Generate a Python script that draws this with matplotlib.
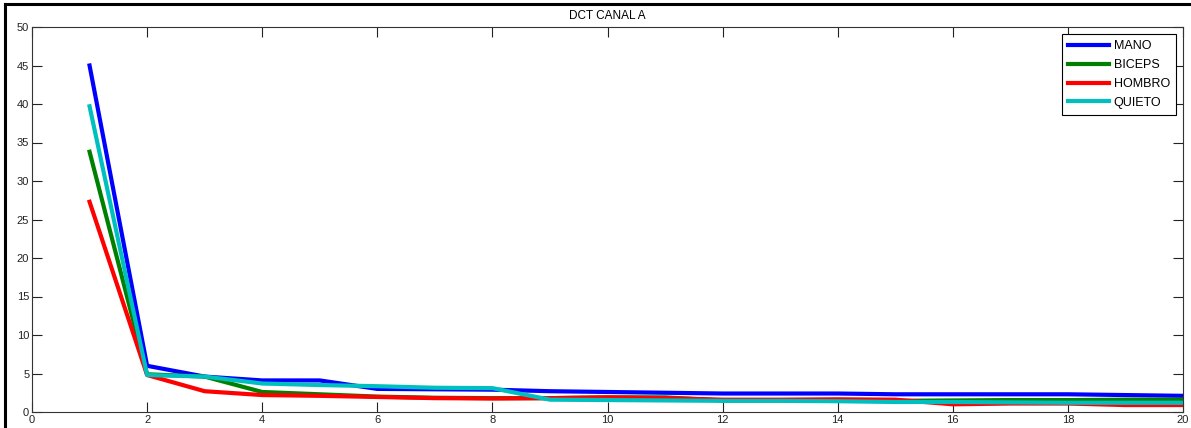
import matplotlib.pyplot as plt
from matplotlib.lines import Line2D

plt.rcParams['font.family'] = ['Liberation Sans', 'DejaVu Sans']

x = list(range(1, 21))
mano = [45.0, 6.0, 4.6, 4.1, 4.1, 3.0, 2.95, 2.9, 2.7, 2.6,
        2.5, 2.4, 2.4, 2.4, 2.3, 2.3, 2.3, 2.3, 2.2, 2.1]
biceps = [33.8, 4.9, 4.6, 2.6, 2.3, 2.0, 1.85, 1.8, 1.8, 1.9,
          1.9, 1.5, 1.5, 1.45, 1.45, 1.5, 1.55, 1.55, 1.6, 1.6]
hombro = [27.3, 4.8, 2.7, 2.2, 2.1, 1.95, 1.8, 1.75, 1.8, 1.9,
          1.8, 1.6, 1.6, 1.65, 1.6, 1.0, 1.1, 1.1, 0.9, 0.9]
quieto = [39.7, 4.8, 4.6, 3.7, 3.5, 3.35, 3.15, 3.1, 1.6, 1.55,
          1.5, 1.45, 1.45, 1.4, 1.3, 1.3, 1.25, 1.2, 1.2, 1.2]

W, H = 1191, 428
fig = plt.figure(figsize=(W / 100, H / 100), dpi=100)
ax = fig.add_axes([32 / W, 1 - 412 / H, (1183 - 32) / W, (412 - 27) / H])

ax.plot(x, mano, color=(0, 0, 1), lw=3, label='MANO')
ax.plot(x, biceps, color=(0, 0.5, 0), lw=3, label='BICEPS')
ax.plot(x, hombro, color=(1, 0, 0), lw=3, label='HOMBRO')
ax.plot(x, quieto, color=(0, 0.75, 0.75), lw=3, label='QUIETO')

ax.set_xlim(0, 20)
ax.set_ylim(0, 50)
ax.set_xticks(range(0, 21, 2))
ax.set_yticks(range(0, 51, 5))
ax.tick_params(direction='in', length=7, width=0.8, top=True, right=True,
               labelsize=8, pad=2, colors='#222222')
for s in ax.spines.values():
    s.set_linewidth(0.8)
    s.set_color('#333333')
ax.set_title('DCT CANAL A', fontsize=8.5, pad=6)

leg = ax.legend(loc='upper right', fontsize=9, handlelength=3.3,
                fancybox=False, framealpha=1, borderaxespad=0.55,
                labelspacing=0.55, handletextpad=0.35, borderpad=0.5)
leg.get_frame().set_edgecolor('black')
leg.get_frame().set_linewidth(0.8)

# page border from the cropped document
fig.add_artist(Line2D([5 / W, 5 / W], [0, 1 - 4 / H], color='black', lw=2.2,
                      transform=fig.transFigure))
fig.add_artist(Line2D([5 / W, 1], [1 - 4 / H, 1 - 4 / H], color='black', lw=2.2,
                      transform=fig.transFigure))

fig.savefig('out.png', dpi=100)
